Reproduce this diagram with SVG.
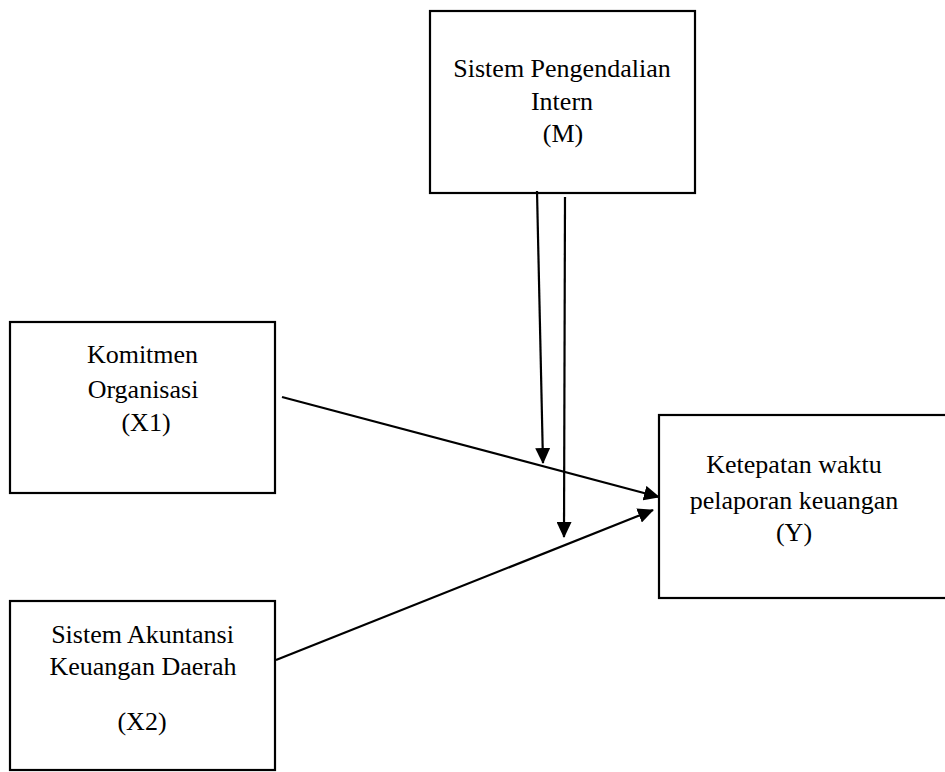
<svg xmlns="http://www.w3.org/2000/svg" width="945" height="772" viewBox="0 0 945 772">
<style>
.box{fill:#fff;stroke:#000;stroke-width:2.2}
.t{font-family:"Liberation Serif","Times New Roman",serif;font-size:26px;fill:#000;text-anchor:middle}
.c{stroke:#000;stroke-width:2.2;fill:none}
</style>
<defs>
<marker id="ah" markerWidth="16" markerHeight="15" refX="15" refY="7.5" orient="auto" markerUnits="userSpaceOnUse">
<path d="M0,0 L16,7.5 L0,15 Z" fill="#000"/>
</marker>
</defs>
<rect width="945" height="772" fill="#fff"/>
<g id="node-M">
<rect class="box" x="430" y="11" width="265" height="182"/>
<text class="t" x="562" y="77">Sistem Pengendalian</text>
<text class="t" x="562" y="110">Intern</text>
<text class="t" x="563" y="142">(M)</text>
</g>
<g id="node-X1">
<rect class="box" x="10" y="322" width="265" height="171"/>
<text class="t" x="142.5" y="363">Komitmen</text>
<text class="t" x="143" y="398">Organisasi</text>
<text class="t" x="146" y="431">(X1)</text>
</g>
<g id="node-Y">
<rect class="box" x="659" y="415" width="295" height="183"/>
<text class="t" x="794" y="473">Ketepatan waktu</text>
<text class="t" x="794" y="509">pelaporan keuangan</text>
<text class="t" x="794" y="541">(Y)</text>
</g>
<g id="node-X2">
<rect class="box" x="10" y="601" width="265" height="169"/>
<text class="t" x="142.5" y="643">Sistem Akuntansi</text>
<text class="t" x="143" y="675">Keuangan Daerah</text>
<text class="t" x="142" y="730">(X2)</text>
</g>
<g id="connectors">
<line class="c" x1="537" y1="191" x2="543" y2="463" marker-end="url(#ah)"/>
<line class="c" x1="565" y1="197" x2="564" y2="537" marker-end="url(#ah)"/>
<line class="c" x1="282" y1="397" x2="659" y2="497" marker-end="url(#ah)"/>
<line class="c" x1="276" y1="660" x2="653" y2="510" marker-end="url(#ah)"/>
</g>
</svg>
